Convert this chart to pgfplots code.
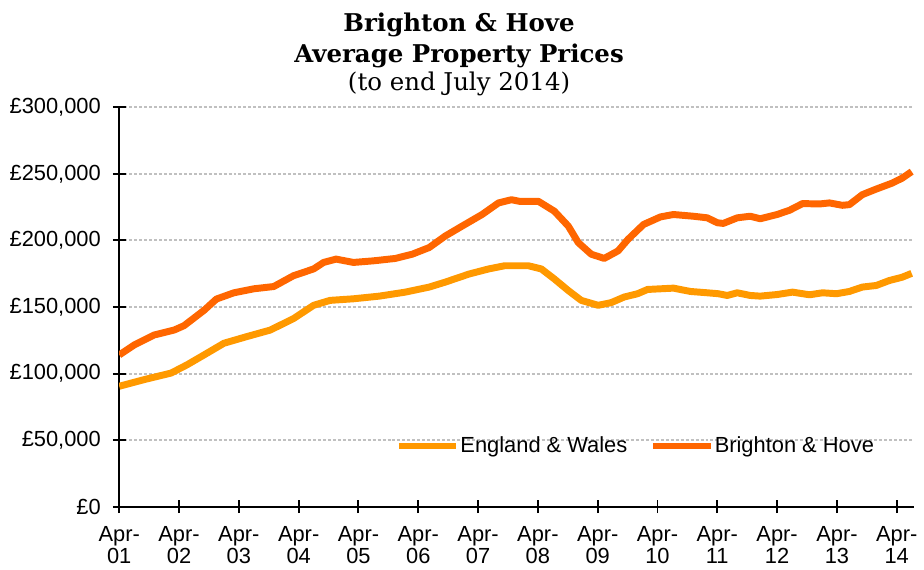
\documentclass[border=0pt]{standalone}
\usepackage{pgfplots}
\pgfplotsset{compat=1.18}
\usepackage{fontspec}
\setmainfont{Liberation Sans}
\newfontfamily\titlefont{DejaVu Serif}
\definecolor{ew}{RGB}{255,153,0}
\definecolor{bh}{RGB}{255,102,0}
\definecolor{gridc}{RGB}{192,192,192}

\pgfplotstableread{
m v
0 90500
5 95500
10.4 100400
13.6 106600
17 114000
21 122800
25.5 127700
30.3 132700
35 141400
39 151300
42.3 155000
47 156200
52.2 158200
57.4 161200
62.2 165000
65.4 168700
70.2 174800
74.1 178600
77.3 181000
80.3 181000
82.1 181000
84.7 178600
87.3 171100
90.1 162400
92.7 155000
96.1 151300
98.7 153300
101.3 157500
104 160000
106 163200
111.2 164200
114.6 161700
118 160700
120.2 160000
122 158700
124 160700
126.6 158700
128.6 158200
132 159400
135.1 161200
138.5 159200
141.1 160700
143.9 160000
146.5 161700
149.1 165000
151.9 166200
154.5 169900
157.1 172400
159 175300
}\ewdata

\pgfplotstableread{
m v
0 114000
3 121500
7 129000
11 132700
13 136000
17 147500
19.5 156000
23 160700
27 163700
31 165400
35 173600
39 178600
41 183500
43.5 186000
47 183500
51 184700
55.4 186500
58.8 189700
62.2 194700
65.4 203300
68.8 210800
72.8 219500
76.1 228200
78.7 230600
80.3 229400
84.1 229400
87.3 222000
90.1 210800
92.1 198400
94.7 189700
97.3 186500
100.1 192200
102.1 200900
105.2 212000
108.6 217700
111.2 219500
115.2 218200
118 217000
120 213300
121.2 212800
124 217000
126.6 218200
128.6 216300
132 219500
134.5 222700
137.1 227700
140.5 227400
142.5 228200
145.1 226400
146.5 226900
149.1 234400
151.9 238600
155.1 243100
157.1 246800
159 251700
}\bhdata

\begin{document}
\begin{tikzpicture}
\begin{axis}[
  scale only axis, width=400pt, height=201pt,
  xmin=0, xmax=159.5, ymin=0, ymax=300000,
  axis x line*=bottom, axis y line*=left,
  axis line style={line width=1pt, -},
  xtick={0,12,...,156},
  xticklabels={{Apr-\\01},{Apr-\\02},{Apr-\\03},{Apr-\\04},{Apr-\\05},{Apr-\\06},{Apr-\\07},{Apr-\\08},{Apr-\\09},{Apr-\\10},{Apr-\\11},{Apr-\\12},{Apr-\\13},{Apr-\\14}},
  ytick={0,50000,...,300000},
  yticklabels={{£0},{£50,000},{£100,000},{£150,000},{£200,000},{£250,000},{£300,000}},
  scaled y ticks=false,
  tick align=center, major tick length=6.5pt,
  tick style={line width=1pt, black},
  ymajorgrids,
  major grid style={gridc, line width=1pt, dash pattern=on 1.5pt off 1pt},
  ticklabel style={font=\fontsize{11}{11}\selectfont},
  yticklabel style={xshift=-2.5pt},
  xticklabel style={align=center, yshift=-3pt},
  legend style={draw=none, fill=none, at={(rel axis cs:0.34,0.152)}, anchor=west,
    legend columns=2, font=\fontsize{11}{12}\selectfont,
    nodes={inner sep=0.5pt},
    /tikz/every even column/.append style={column sep=11pt}},
  legend image code/.code={\draw[#1, line width=3pt] (0pt,0pt) -- (29pt,0pt);},
]
\addplot[ew, line width=3.5pt, line join=round] table[x=m, y=v] {\ewdata};
\addlegendentry{England \& Wales}
\addplot[bh, line width=3.5pt, line join=round] table[x=m, y=v] {\bhdata};
\addlegendentry{Brighton \& Hove}
\coordinate (sw) at (rel axis cs:0,0);
\end{axis}
\node[font=\fontsize{12.3}{15.5}\titlefont\bfseries, align=center, anchor=north, inner sep=0pt]
  at ([shift={(171pt,248.5pt)}]sw) {Brighton \& Hove\\Average Property Prices\\[-1.5pt]{\mdseries (to end July 2014)}};
\path (sw) ++(-60pt,-29.5pt) rectangle ++(462pt,284.5pt);
\end{tikzpicture}
\end{document}
